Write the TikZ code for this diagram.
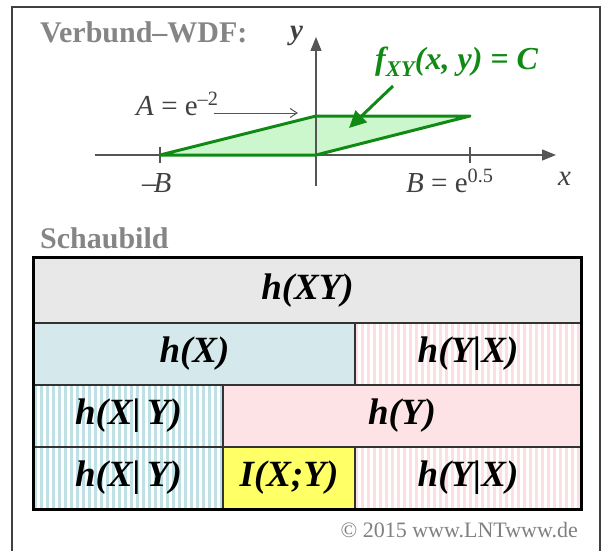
\documentclass[tikz,border=0pt]{standalone}
\usepackage{fontspec}
\setmainfont{Liberation Serif}
\usepackage{xcolor}
\usepackage{tikz}
\usetikzlibrary{arrows.meta, positioning}

\definecolor{axisgray}{HTML}{555555}
\definecolor{pdfgreen}{HTML}{108A14}
\definecolor{pdffill}{HTML}{CCF7CC}
\definecolor{titlegray}{HTML}{858585}
\definecolor{cellgray}{HTML}{E8E8E8}
\definecolor{cellblue}{HTML}{D5E9EC}
\definecolor{stripeblue}{HTML}{BFE1E6}
\definecolor{cellpink}{HTML}{FDE3E5}
\definecolor{stripepink}{HTML}{FDDFE2}
\definecolor{cellyellow}{HTML}{FFFF66}

\begin{document}
\begin{tikzpicture}[x=1pt, y=-1pt,
	axisline/.style={draw=axisgray, line width=1.4pt},
	axisarrow/.style={axisline, -{Triangle[length=14pt, width=11pt]}},
	pointer/.style={draw=axisgray, line width=1pt, -{Straight Barb[length=7pt, width=9pt]}},
	greenarrow/.style={draw=pdfgreen, line width=3pt, -{Triangle[length=17pt, width=16pt]}},
	pdfarea/.style={fill=pdffill, draw=pdfgreen, line width=3pt, line join=round},
	title/.style={text=titlegray, inner sep=0pt, font=\fontsize{30}{34}\selectfont\bfseries},
	axlabel/.style={text=black!75, inner sep=0pt, font=\fontsize{29}{33}\selectfont},
	flabel/.style={text=pdfgreen, inner sep=0pt, font=\fontsize{32}{36}\selectfont\bfseries\itshape},
	cell/.style={draw=black!80, line width=1.2pt, inner sep=0pt, font=\fontsize{37}{42}\selectfont\bfseries\itshape},
	bluestripes/.style={fill=white, path picture={\foreach \s in {0,6,...,372} \fill[stripeblue] ([xshift=\s*1pt]path picture bounding box.south west) rectangle ++(3pt,70pt);}},
	pinkstripes/.style={fill=white, path picture={\foreach \s in {0,6,...,372} \fill[stripepink] ([xshift=\s*1pt]path picture bounding box.south west) rectangle ++(3pt,70pt);}}]
			\useasboundingbox (0,0) rectangle (602,551);
			% Frame and titles:
			\draw[draw=black!75, line width=1.5pt] (12,551) -- (12,7) -- (600,7) -- (600,551);
			\node[title, anchor=base west] (wdf) at (40,43) {Verbund–WDF:};
			\node[title, anchor=base west] (schau) at (40,248) {Schaubild};
			\node[anchor=base east, inner sep=0pt, text=black!50, font=\fontsize{22}{26}\selectfont] (copy) at (578,537) {© 2015 www.LNTwww.de};
			% Joint PDF:
			\coordinate (O) at (316,155);
			\coordinate (xstart) at (95,155);
			\coordinate (xend) at (556,155);
			\coordinate (ystart) at (316,186);
			\coordinate (yend) at (316,37);
			\coordinate (mB) at (160,155);
			\coordinate (pB) at (470,155);
			\coordinate (Atop) at (316,116);
			\coordinate (Ctop) at (470,116);
			\fill[pdffill] (mB) -- (O) -- (Ctop) -- (Atop) -- cycle;
			\draw[axisarrow] (xstart) -- (xend);
			\draw[axisarrow] (ystart) -- (yend);
			\draw[axisline] ([yshift=8pt]mB) -- ([yshift=-8pt]mB);
			\draw[axisline] ([yshift=8pt]pB) -- ([yshift=-8pt]pB);
			\draw[pdfarea, fill=none] (mB) -- (O) -- (Ctop) -- (Atop) -- cycle;
			\node[axlabel, anchor=base west, font=\fontsize{29}{33}\selectfont\bfseries\itshape] (ylab) at (290,40) {y};
			\node[axlabel, anchor=base west, font=\fontsize{29}{33}\selectfont\itshape] (xlab) at (558,185) {x};
			\node[axlabel, anchor=base west] (mBlab) at (142,192) {–\kern-3pt\textit{B}};
			\node[axlabel, anchor=base west] (pBlab) at (406,192) {\textit{B} = e\textsuperscript{0.5}};
			\node[axlabel, anchor=base west] (Alab) at (136,115) {\textit{A} = e\textsuperscript{–2}};
			\coordinate (Aend) at (298,113);
			\draw[pointer] ([xshift=-5pt]Alab.east |- Aend) -- (Aend);
			\node[flabel, anchor=base west] (flab) at (375,70) {f\textsubscript{XY}(x, y) = C};
			\coordinate (fstart) at (393,86);
			\coordinate (ftip) at (349,128);
			\draw[greenarrow] (fstart) -- (ftip);
			% Schaubild:
			\node[cell, fill=cellgray, minimum width=547pt, minimum height=65pt] (XY) at (307.5,290.5) {h(XY)};
			\node[cell, fill=cellblue, minimum width=321pt, minimum height=62pt] (X) at (194.5,354) {h(X)};
			\node[cell, pinkstripes, minimum width=226pt, minimum height=62pt] (YgXa) at (468,354) {h(Y|X)};
			\node[cell, bluestripes, minimum width=189pt, minimum height=62pt] (XgYa) at (128.5,416) {h(X|\,Y)};
			\node[cell, fill=cellpink, minimum width=358pt, minimum height=62pt] (Y) at (402,416) {h(Y)};
			\node[cell, bluestripes, minimum width=189pt, minimum height=62pt] (XgYb) at (128.5,478) {h(X|\,Y)};
			\node[cell, fill=cellyellow, minimum width=132pt, minimum height=62pt] (IXY) at (289,478) {I(X;Y)};
			\node[cell, pinkstripes, minimum width=226pt, minimum height=62pt] (YgXb) at (468,478) {h(Y|X)};
			\draw[line width=3.5pt] (XY.north west) rectangle (YgXb.south east);
		\end{tikzpicture}
\end{document}
